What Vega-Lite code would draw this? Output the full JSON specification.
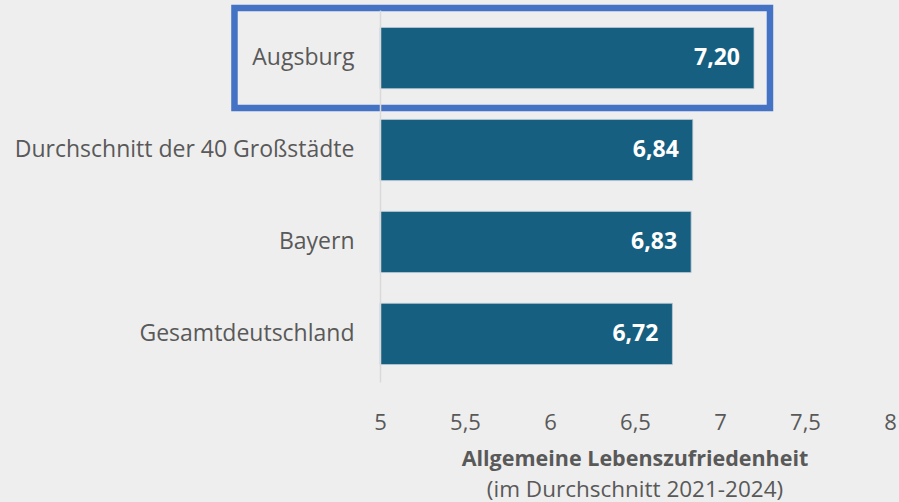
{
  "$schema": "https://vega.github.io/schema/vega-lite/v6.json",
  "width": 510,
  "height": 372,
  "autosize": "none",
  "padding": {"left": 380, "top": 10, "right": 9, "bottom": 120},
  "background": "#eeeeee",
  "config": {
    "view": {"stroke": null},
    "font": "Open Sans",
    "locale": {"number": {"decimal": ",", "thousands": ".", "grouping": [3], "currency": ["", " €"]}}
  },
  "title": {
    "text": "Allgemeine Lebenszufriedenheit",
    "subtitle": "(im Durchschnitt 2021-2024)",
    "orient": "bottom",
    "anchor": "middle",
    "fontSize": 21.5,
    "fontWeight": "bold",
    "color": "#595959",
    "subtitleFontSize": 22.5,
    "subtitleColor": "#595959",
    "subtitleFontWeight": "normal",
    "offset": 16,
    "subtitlePadding": 8
  },
  "data": {
    "values": [
      {"region": "Augsburg", "value": 7.20},
      {"region": "Durchschnitt der 40 Großstädte", "value": 6.84},
      {"region": "Bayern", "value": 6.83},
      {"region": "Gesamtdeutschland", "value": 6.72}
    ]
  },
  "encoding": {
    "y": {
      "field": "region",
      "type": "nominal",
      "sort": null,
      "scale": {"paddingInner": 0.335, "paddingOuter": 0.19},
      "axis": {
        "title": null,
        "ticks": false,
        "domain": true,
        "domainColor": "#d9d9d9",
        "domainWidth": 1.5,
        "labelFontSize": 23,
        "labelColor": "#595959",
        "labelPadding": 26,
        "labelLimit": 400,
        "grid": false,
        "zindex": 1
      }
    }
  },
  "layer": [
    {
      "mark": {"type": "bar", "color": "#165f80", "stroke": "#b9c9d6", "strokeWidth": 0.8},
      "encoding": {
        "x": {
          "field": "value",
          "type": "quantitative",
          "scale": {"domain": [5, 8], "nice": false, "zero": false},
          "axis": {
            "title": null,
            "values": [5, 5.5, 6, 6.5, 7, 7.5, 8],
            "format": "~g",
            "domain": false,
            "ticks": false,
            "grid": false,
            "labelFlush": false,
            "labelFontSize": 22,
            "labelColor": "#595959",
            "labelPadding": 30
          }
        },
        "x2": {"datum": 5}
      }
    },
    {
      "mark": {"type": "text", "align": "right", "baseline": "middle", "dx": -14, "color": "white", "fontWeight": "bold", "fontSize": 23},
      "encoding": {
        "x": {"field": "value", "type": "quantitative"},
        "text": {"field": "value", "type": "quantitative", "format": ".2f"}
      }
    },
    {
      "transform": [{"filter": "datum.region === 'Augsburg'"}],
      "mark": {"type": "bar", "fill": null, "fillOpacity": 0, "stroke": "#4472c4", "strokeWidth": 6.5, "height": 100},
      "encoding": {
        "x": {"datum": 4.144, "type": "quantitative"},
        "x2": {"datum": 7.294}
      }
    }
  ]
}
